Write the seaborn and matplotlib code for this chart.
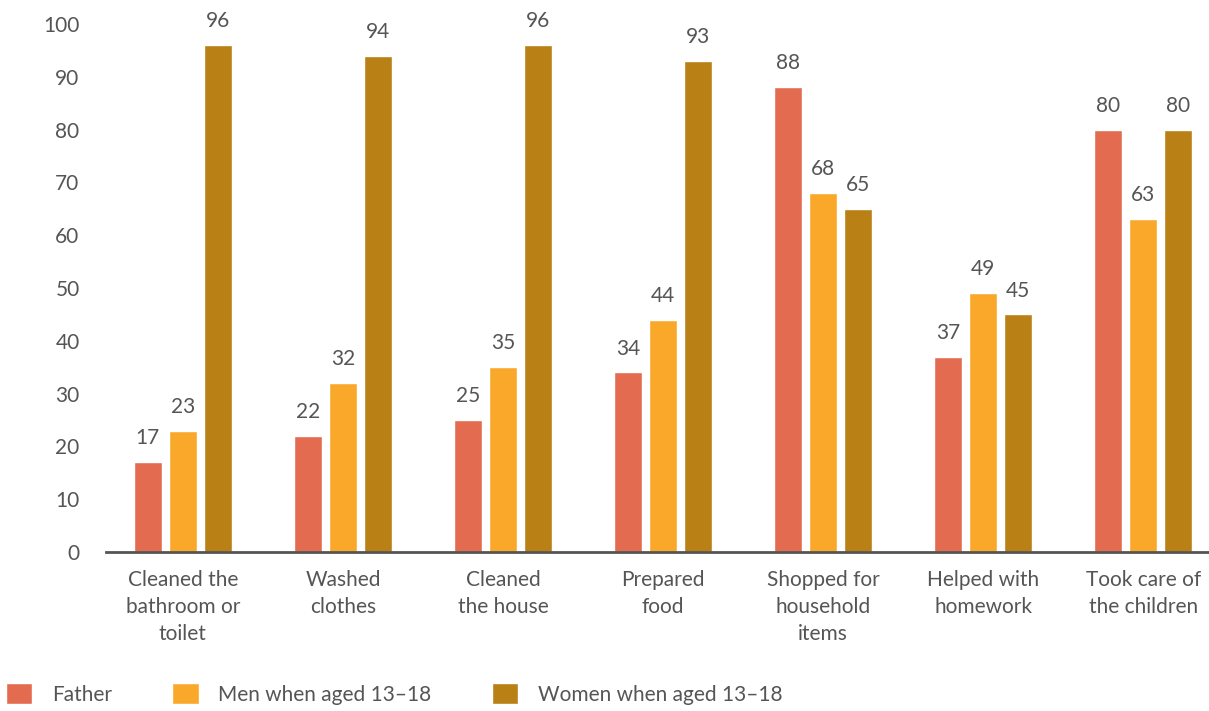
import pandas as pd
import matplotlib.pyplot as plt
import seaborn as sns

categories = ['Cleaned the\nbathroom or\ntoilet', 'Washed\nclothes', 'Cleaned\nthe house',
              'Prepared\nfood', 'Shopped for\nhousehold\nitems', 'Helped with\nhomework',
              'Took care of\nthe children']
father = [17, 22, 25, 34, 88, 37, 80]
men = [23, 32, 35, 44, 68, 49, 63]
women = [96, 94, 96, 93, 65, 45, 80]
groups = ['Father', 'Men when aged 13\u201318', 'Women when aged 13\u201318']
colors = ['#E36B50', '#F9A82A', '#B98016']

df = pd.DataFrame({'Category': categories * 3,
                   'Group': [groups[0]] * 7 + [groups[1]] * 7 + [groups[2]] * 7,
                   'Value': father + men + women})

sns.set_style('white')
plt.rcParams['font.family'] = ['Lato', 'DejaVu Sans']
grey = '#555555'
fs = 15

fig = plt.figure(figsize=(12.09, 7.11), dpi=100)
ax = fig.add_axes([106 / 1209, 159 / 711, 1103 / 1209, 528 / 711])

sns.barplot(data=df, x='Category', y='Value', hue='Group', palette=colors,
            width=0.656, gap=0.2, saturation=1, ax=ax, legend=True)

for cont in ax.containers:
    ax.bar_label(cont, labels=[f'{v:.0f}' for v in cont.datavalues], padding=10,
                 fontsize=fs, color=grey)

ax.set_ylim(0, 100)
ax.set_xlim(-0.48, 6.41)
ax.set_yticks(range(0, 101, 10))
ax.set_xlabel('')
ax.set_ylabel('')
ax.tick_params(axis='both', length=0, labelsize=fs, labelcolor=grey)
ax.tick_params(axis='y', pad=19)
ax.tick_params(axis='x', pad=13)
for lab in ax.get_xticklabels():
    lab.set_linespacing(1.45)
    lab.set_verticalalignment('top')
for s in ['top', 'right', 'left']:
    ax.spines[s].set_visible(False)
ax.spines['bottom'].set_color(grey)
ax.spines['bottom'].set_linewidth(2)

handles, labels = ax.get_legend_handles_labels()
ax.get_legend().remove()
leg = fig.legend(handles, labels, loc='lower left', bbox_to_anchor=(0.0, 0.0), ncol=3,
                 frameon=False, fontsize=fs, labelcolor=grey, handlelength=1.25,
                 handleheight=1.2, handletextpad=0.95, columnspacing=2.9,
                 borderaxespad=0.1, borderpad=0.2)

fig.savefig('out.png', dpi=100)
